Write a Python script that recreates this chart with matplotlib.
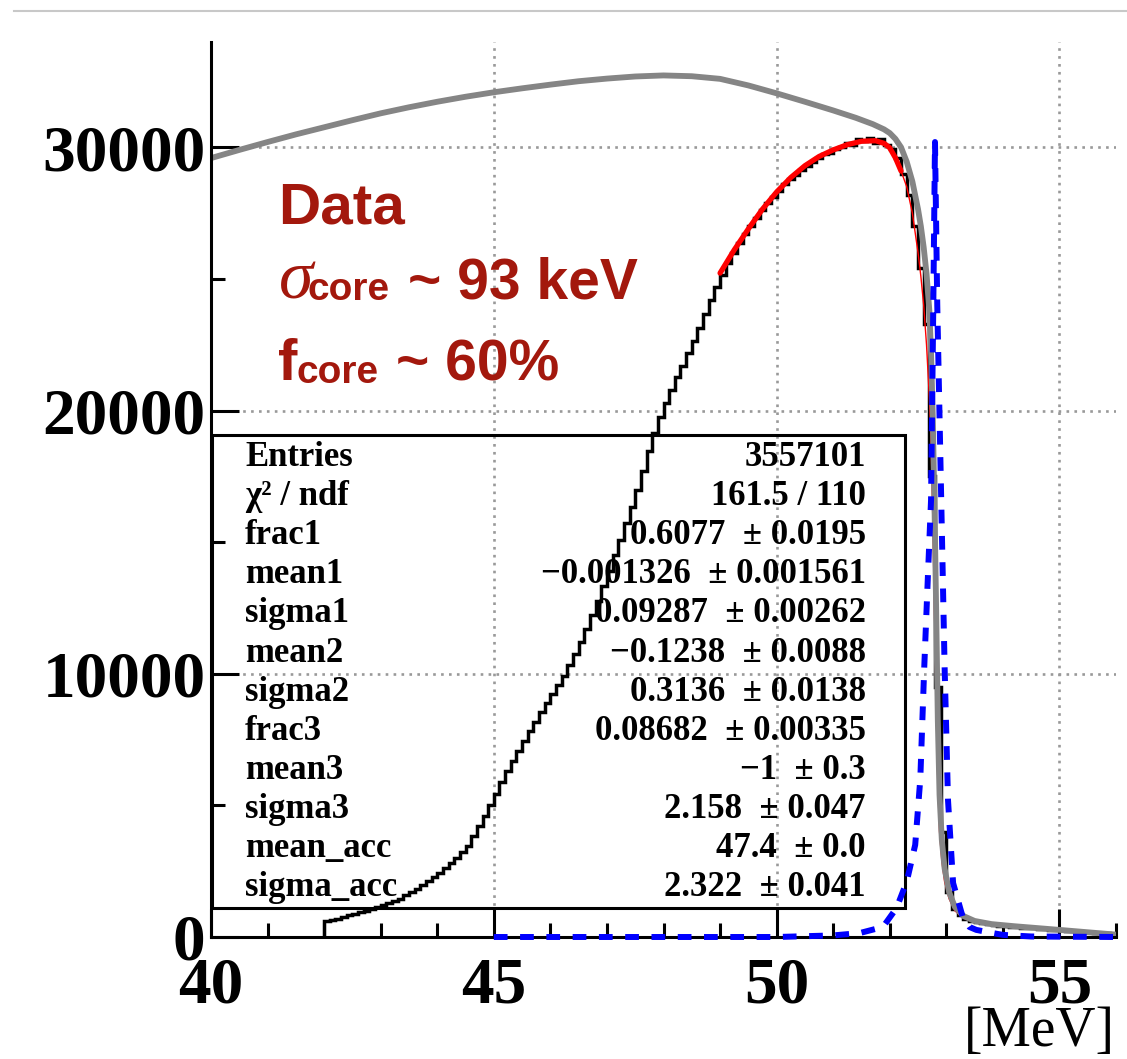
import numpy as np
import matplotlib
matplotlib.use("Agg")
import matplotlib.pyplot as plt
from matplotlib.lines import Line2D
from matplotlib.patches import Rectangle
from matplotlib.ticker import MultipleLocator

# measured spectrum, 0.1 MeV bins starting at 42 MeV
bin_lo = 42.0
bin_w = 0.1
counts = [620, 660, 700, 760, 820, 880, 940, 1000, 1070, 1130,
          1200, 1280, 1370, 1460, 1580, 1700, 1830, 1960, 2110, 2280,
          2450, 2630, 2830, 3020, 3230, 3450, 3820, 4200, 4600, 5020,
          5450, 5870, 6290, 6700, 7080, 7450, 7810, 8170, 8530, 8890,
          9250, 9580, 9930, 10320, 10750, 11200, 11700, 12220, 12770, 13330,
          13900, 14500, 15100, 15720, 16350, 17000, 17700, 18450, 19150, 19750,
          20300, 20780, 21260, 21710, 22180, 22650, 23150, 23680, 24200, 24700,
          25150, 25600, 26000, 26350, 26700, 27000, 27300, 27600, 27900, 28100,
          28350, 28600, 28800, 28950, 29150, 29300, 29450, 29600, 29750, 29800,
          29950, 30000, 30150, 30100, 30300, 30250, 30350, 30150, 30300, 30100,
          29950, 29600, 29000, 28200, 27000, 25400, 23300, 17500, 9500, 4000,
          1700, 1050, 820, 700, 620, 560, 520, 490, 460, 430,
          410, 390, 370, 355, 340, 325, 310, 295, 280, 265,
          250, 240, 225, 210, 195, 180, 165, 150, 135, 120]

# fit function (red), thick in fit range, thin beyond
red_x = [49.0, 49.25, 49.5, 49.75, 50.0, 50.25, 50.5, 50.75, 51.0, 51.25,
         51.5, 51.75, 51.9, 52.0, 52.1, 52.2]
red_y = [25220, 26100, 26900, 27650, 28300, 28850, 29300, 29650, 29900, 30100,
         30230, 30250, 30150, 29980, 29600, 29100]
red_tail_x = [52.2, 52.3, 52.4, 52.5, 52.55, 52.6, 52.65, 52.7, 52.73, 52.76,
              52.79, 52.82, 52.85, 52.88, 52.92, 52.97, 53.05, 53.15, 53.3, 53.5,
              53.8, 54.2, 54.6, 55.0, 55.5, 56.0]
red_tail_y = [29100, 28500, 27500, 26000, 25100, 24000, 22500, 20500, 18800, 16000,
              12500, 8800, 5800, 4000, 2900, 2100, 1450, 1000, 720, 560,
              460, 390, 320, 250, 170, 90]

# grey curve
gray_x = [40.0, 40.5, 41.0, 41.5, 42.0, 42.5, 43.0, 43.5, 44.0, 44.5,
          45.0, 45.5, 46.0, 46.5, 47.0, 47.5, 48.0, 48.5, 49.0, 49.5,
          50.0, 50.5, 51.0, 51.4, 51.7, 51.9, 52.0, 52.1, 52.2, 52.3,
          52.4, 52.5, 52.55, 52.6, 52.65, 52.7, 52.73, 52.76, 52.79, 52.82,
          52.85, 52.88, 52.92, 52.97, 53.05, 53.15, 53.3, 53.5, 53.8, 54.2,
          54.6, 55.0, 55.5, 56.0]
gray_y = [29590, 29900, 30200, 30490, 30760, 31030, 31290, 31520, 31730, 31920,
          32090, 32240, 32380, 32510, 32610, 32690, 32730, 32700, 32600, 32350,
          32050, 31730, 31400, 31120, 30880, 30680, 30540, 30320, 30000, 29450,
          28700, 27650, 27000, 26200, 25200, 23800, 22200, 19800, 16500, 12500,
          8200, 5400, 3700, 2600, 1700, 1150, 800, 610, 490, 410,
          340, 270, 180, 90]

# blue dashed response
blue_x = [45.0, 50.0, 51.0, 51.47, 51.88, 52.12, 52.3, 52.45, 52.54, 52.61,
          52.68, 52.73, 52.77, 52.80, 52.84, 52.91, 52.97, 53.03, 53.12, 53.29,
          53.41, 53.53, 53.82, 54.0, 54.5, 56.0]
blue_y = [0, 0, 60, 150, 380, 1100, 2100, 3500, 6000, 10250,
          14000, 16600, 24000, 30200, 24000, 16600, 10250, 5200, 2050, 760,
          380, 270, 150, 80, 20, 0]

stat_names = ["Entries", "\u03c7\u00b2 / ndf", "frac1", "mean1", "sigma1", "mean2",
              "sigma2", "frac3", "mean3", "sigma3", "mean_acc", "sigma_acc"]
stat_vals = ["3557101", "161.5 / 110", "0.6077  \u00b1 0.0195",
             "\u22120.001326  \u00b1 0.001561", "0.09287  \u00b1 0.00262",
             "\u22120.1238  \u00b1 0.0088", "0.3136  \u00b1 0.0138",
             "0.08682  \u00b1 0.00335", "\u22121  \u00b1 0.3", "2.158  \u00b1 0.047",
             "47.4  \u00b1 0.0", "2.322  \u00b1 0.041"]

serif = "Liberation Serif"
sans = "Liberation Sans"
dred = "#a3180d"

fig = plt.figure(figsize=(11.27, 10.59), dpi=100)
ax = fig.add_axes([211 / 1127, 1 - 937 / 1059, 905 / 1127, 895 / 1059])
ax.set_xlim(40, 56)
ax.set_ylim(0, 34000)

for s in ["top", "right"]:
    ax.spines[s].set_visible(False)
for s in ["left", "bottom"]:
    ax.spines[s].set_linewidth(2.2)

ax.set_xticks([40, 45, 50, 55])
ax.set_yticks([0, 10000, 20000, 30000])
ax.xaxis.set_minor_locator(MultipleLocator(1))
ax.yaxis.set_minor_locator(MultipleLocator(5000))
ax.set_xticklabels(["40", "45", "50", "55"])
ax.set_yticklabels(["0", "10000", "20000", "30000"])
ax.tick_params(which="both", direction="in", width=2.2, color="k")
ax.tick_params(which="major", length=20)
ax.tick_params(which="minor", length=10)
ax.tick_params(axis="x", which="major", pad=14)
ax.tick_params(axis="y", which="major", pad=4)
for lbl in ax.get_xticklabels() + ax.get_yticklabels():
    lbl.set_fontfamily(serif)
    lbl.set_fontweight("bold")
    lbl.set_fontsize(47)

ax.grid(True, which="major", color="#999999", ls=(0, (1, 2)), lw=1.9)
ax.set_axisbelow(True)

# stats box
ax.add_patch(Rectangle((0.001, 29 / 895), 693 / 905, 473 / 895, transform=ax.transAxes,
                       fill=False, ec="k", lw=2.2, zorder=1.5, clip_on=False))
for i, (n, v) in enumerate(zip(stat_names, stat_vals)):
    yy = (937 - (466 + 39.1 * i)) / 895
    ax.text(34 / 905, yy, n, transform=ax.transAxes, family=serif, weight="bold",
            fontsize=25, va="baseline", ha="left", zorder=1.6)
    ax.text(655 / 905, yy, v, transform=ax.transAxes, family=serif, weight="bold",
            fontsize=25, va="baseline", ha="right", zorder=1.6)

# curves
edges = bin_lo + bin_w * np.arange(len(counts) + 1)
ax.stairs(counts, edges, color="k", lw=2.5, baseline=0, zorder=2)
ax.plot(red_tail_x, red_tail_y, color="red", lw=1.0, zorder=2.2)
ax.plot(red_x, red_y, color="red", lw=3.8, zorder=2.3, solid_capstyle="round")
ax.plot(gray_x, gray_y, color="#858585", lw=4.2, zorder=2.5)
ax.plot(blue_x, blue_y, color="blue", lw=4.3, ls=(0, (2.3, 2.1)), zorder=3,
        clip_on=False)

# annotations
ax.text(41.18, 27120, "Data", color=dred, family=sans, weight="bold", fontsize=42,
        va="baseline")
ax.text(41.2, 24270, "\u03c3", color=dred, family=serif, style="italic", fontsize=50,
        va="baseline")
ax.text(41.7, 24190, "core", color=dred, family=sans, weight="bold", fontsize=28,
        va="baseline")
ax.text(43.48, 24270, "~ 93 keV", color=dred, family=sans, weight="bold", fontsize=41,
        va="baseline")
ax.text(41.18, 21150, "f", color=dred, family=sans, weight="bold", fontsize=42,
        va="baseline")
ax.text(41.52, 21040, "core", color=dred, family=sans, weight="bold", fontsize=28,
        va="baseline")
ax.text(43.27, 21150, "~ 60%", color=dred, family=sans, weight="bold", fontsize=41,
        va="baseline")

fig.text(1115 / 1127, 1 - 1046 / 1059, "[MeV]", ha="right", va="baseline",
         family=serif, fontsize=40)

# slide separator line at the very top
fig.add_artist(Line2D([14 / 1127, 1.0], [1 - 11 / 1059] * 2, color="#c8c8c8", lw=1.5))

fig.savefig("out.png", dpi=100)
